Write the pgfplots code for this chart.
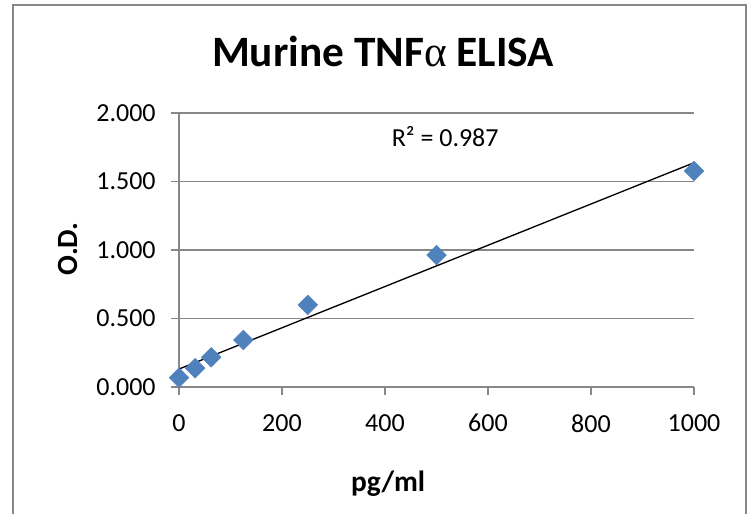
\documentclass[border=0pt]{standalone}
\usepackage{pgfplots}
\pgfplotsset{compat=1.18}
\usepackage{fontspec}
\setmainfont{Carlito}
\newfontfamily\symfont{Liberation Serif}
\definecolor{gridgray}{HTML}{878787}
\definecolor{markblue}{HTML}{4F81BD}

\begin{document}
\begin{tikzpicture}[x=0.75pt,y=0.75pt]
\useasboundingbox (0,0) rectangle (755,513);
% chart frame (runs off the bottom edge, as in the reference)
\draw[gridgray, line width=1pt] (13,-20) rectangle (746,508);
\begin{axis}[
  at={(134.25pt,94.5pt)}, anchor=south west,
  scale only axis, width=386.25pt, height=205.5pt,
  xmin=0, xmax=1000, ymin=0, ymax=2,
  clip=false,
  axis x line*=bottom, axis y line*=left,
  axis line style={gridgray, line width=1pt, -},
  ymajorgrids, grid style={gridgray, line width=1pt},
  tick style={gridgray, line width=1pt},
  tick align=outside, major tick length=6pt,
  xtick={0,200,...,1000}, ytick={0,0.5,...,2},
  /pgf/number format/assume math mode=true,
  /pgf/number format/1000 sep={},
  ticklabel style={font=\fontsize{19.5}{22}\selectfont},
  xticklabel style={yshift=-11pt},
  yticklabel style={xshift=-8pt},
  yticklabel={\pgfmathprintnumber[fixed,fixed zerofill,precision=3]{\tick}},
]
\addplot[only marks, mark=square*, mark size=5.2pt,
  mark options={rotate=45, fill=markblue, draw=markblue}] coordinates {
  (0,0.068) (31.25,0.137) (62.5,0.217) (125,0.343)
  (250,0.599) (500,0.963) (1000,1.577)
};
% linear trend line
\addplot[black, line width=1pt] coordinates {(0,0.131) (1000,1.637)};

\node[anchor=base west, font=\fontsize{19.5}{22}\selectfont] at (axis cs:404,1.752) {R² = 0.987};
\node[anchor=base, font=\fontsize{32.5}{38}\selectfont\bfseries]
  at (rel axis cs:0.396,1.168) {Murine TNF{\symfont\mdseries α} ELISA};
\node[anchor=base, font=\fontsize{22}{26}\selectfont\bfseries]
  at (rel axis cs:0.406,-0.380) {pg/ml};
\node[anchor=base, rotate=90, font=\fontsize{22}{26}\selectfont\bfseries]
  at (rel axis cs:-0.198,0.504) {O.D.};
\end{axis}
\end{tikzpicture}
\end{document}
